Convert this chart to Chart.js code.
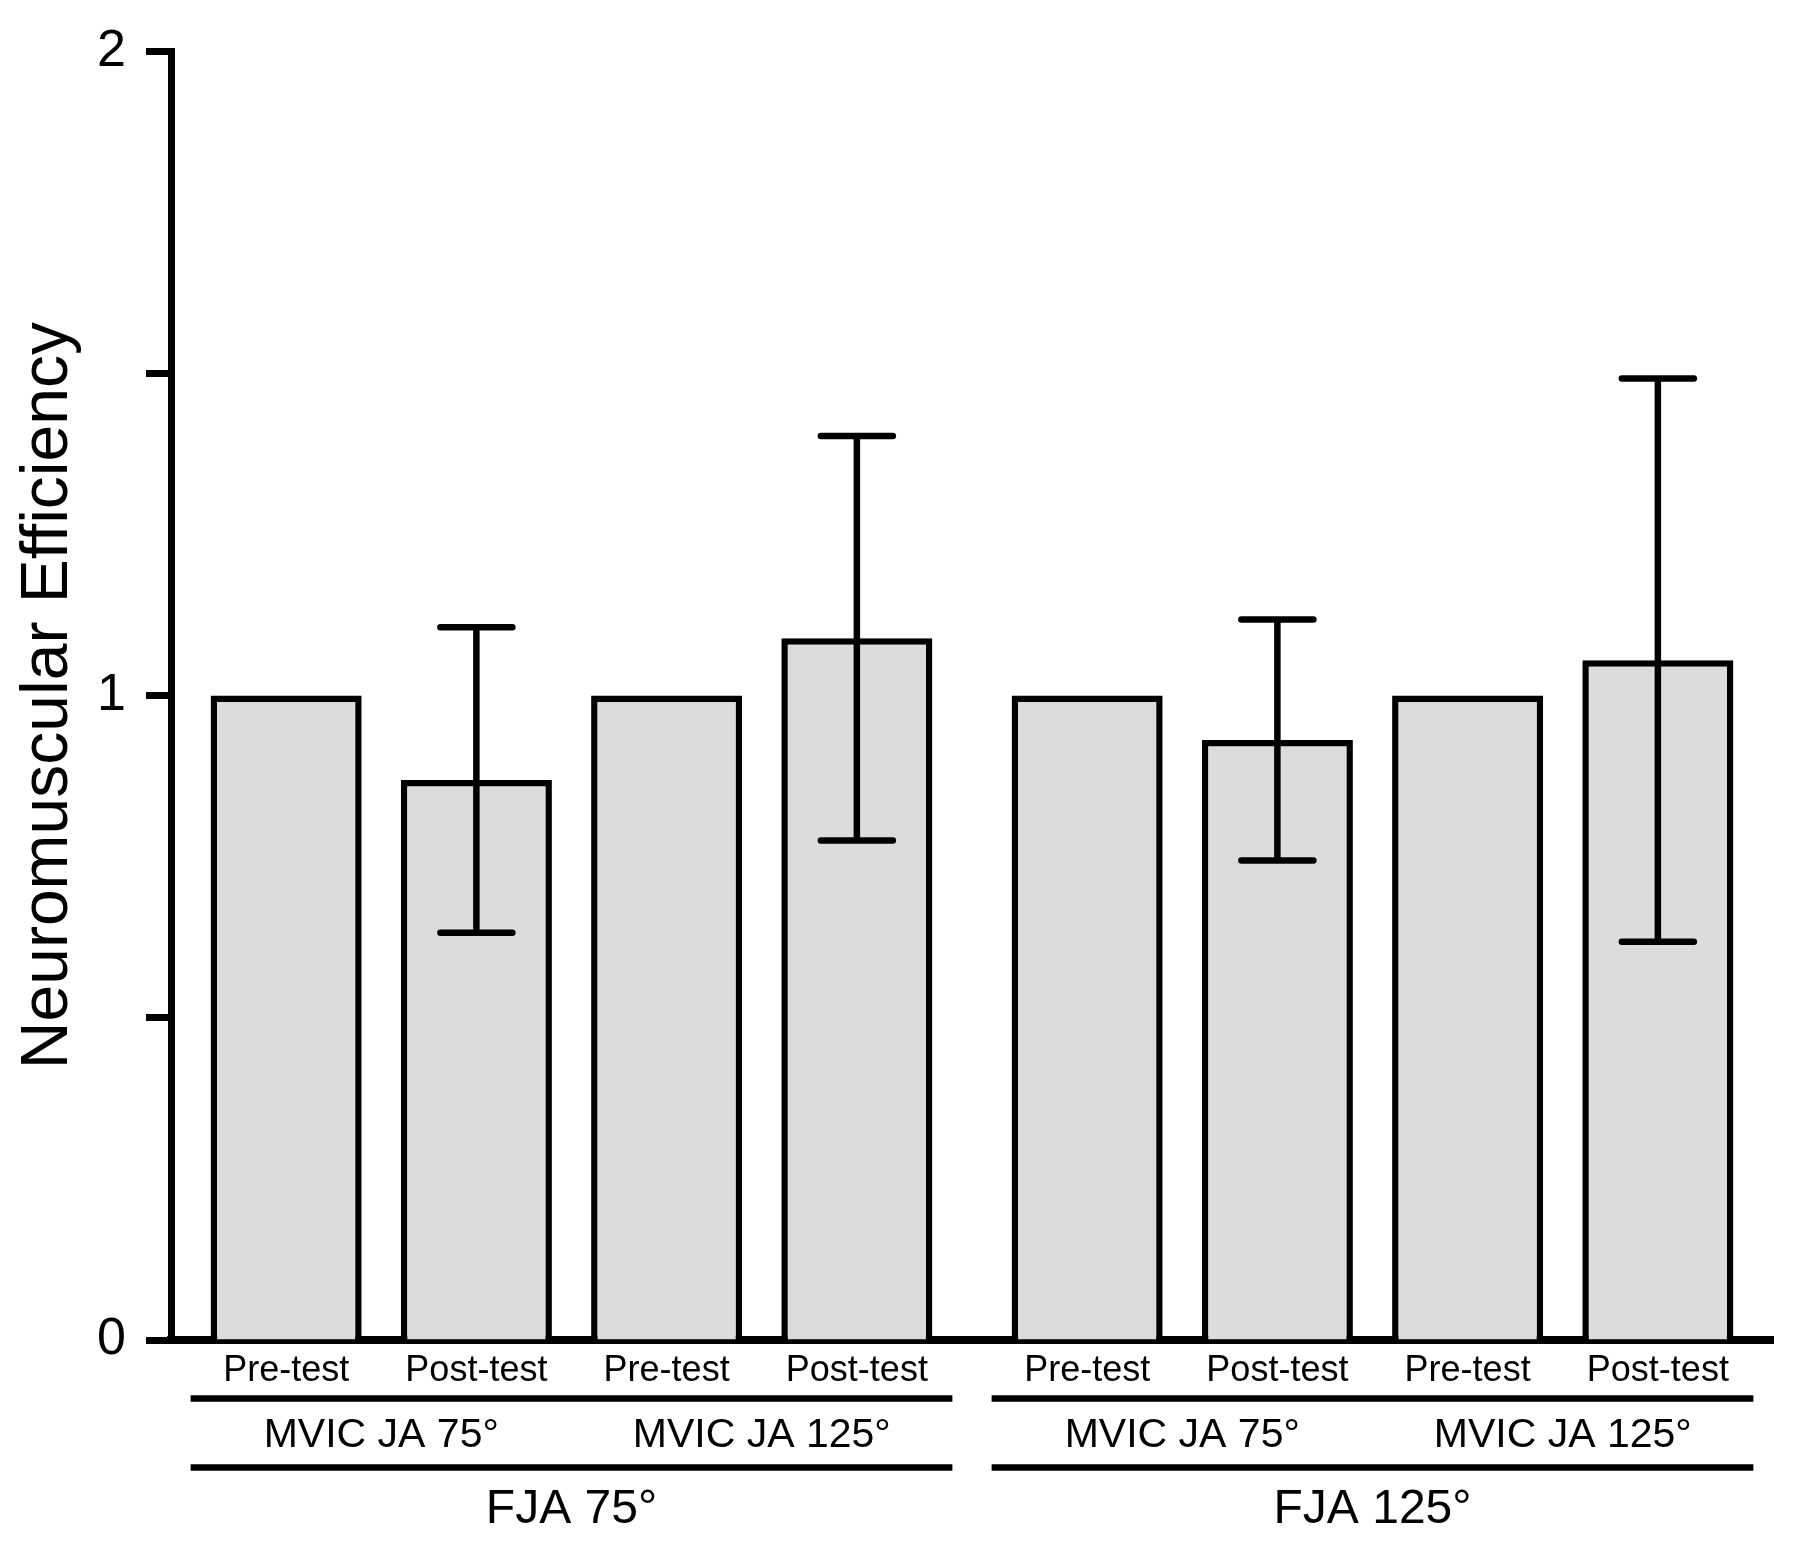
<!DOCTYPE html>
<html>
<head>
<meta charset="utf-8">
<script src="https://cdn.jsdelivr.net/npm/chart.js@4/dist/chart.umd.min.js"></script>
<style>
	html, body { margin: 0; padding: 0; background: #fff; }
	canvas { display: block; }
</style>
</head>
<body>
<canvas id="nmeChart" width="1794" height="1545"></canvas>
<script>
// Values (neuromuscular efficiency, mean and SD)
const groups = ["FJA 75°", "FJA 125°"];
const conditions = ["MVIC JA 75°", "MVIC JA 125°"];
const phases = ["Pre-test", "Post-test"];

const pre75 = [1.0, 1.0];
const post75 = [0.869, 0.931];
const post75Sd = [0.237, 0.187];
const pre125 = [1.0, 1.0];
const post125 = [1.089, 1.055];
const post125Sd = [0.314, 0.437];

const yTickValues = [0, 1, 2];
const yTitle = "Neuromuscular Efficiency";

const FONT = "'Liberation Sans', Arial, sans-serif";
const BAR_FILL = "#dcdcdc";

document.addEventListener("DOMContentLoaded", function () {
	const canvas = document.getElementById("nmeChart");

	if (typeof Chart === "undefined") {
		console.error("Chart.js is not loaded.");
		return;
	}

	function barSet(label, values, sd) {
		return {
			label: label,
			data: values,
			sd: sd,
			backgroundColor: BAR_FILL,
			borderColor: "#000",
			borderWidth: 6.5,
			borderSkipped: "start",
			categoryPercentage: 0.95,
			barPercentage: 0.794,
		};
	}

	// error bars on top of the bars
	const errorBars = {
		id: "errorBars",
		afterDatasetsDraw(chart) {
			const ctx = chart.ctx;
			const y = chart.scales.y;
			chart.data.datasets.forEach(function (ds, i) {
				if (!ds.sd) return;
				chart.getDatasetMeta(i).data.forEach(function (bar, j) {
					const v = ds.data[j];
					const e = ds.sd[j];
					const yTop = y.getPixelForValue(v + e);
					const yBot = y.getPixelForValue(v - e);
					ctx.save();
					ctx.strokeStyle = "#000";
					ctx.lineWidth = 6.5;
					ctx.lineCap = "butt";
					ctx.beginPath();
					ctx.moveTo(bar.x, yTop);
					ctx.lineTo(bar.x, yBot);
					ctx.stroke();
					ctx.lineCap = "round";
					ctx.beginPath();
					ctx.moveTo(bar.x - 36, yTop);
					ctx.lineTo(bar.x + 36, yTop);
					ctx.moveTo(bar.x - 36, yBot);
					ctx.lineTo(bar.x + 36, yBot);
					ctx.stroke();
					ctx.restore();
				});
			});
		},
	};

	// nested category labels under the x axis + rotated y title
	const axisLabels = {
		id: "axisLabels",
		afterDraw(chart) {
			const ctx = chart.ctx;
			const area = chart.chartArea;
			const xScale = chart.scales.x;
			const metas = chart.data.datasets.map((d, i) => chart.getDatasetMeta(i));
			const bottom = area.bottom;

			ctx.save();
			ctx.fillStyle = "#000";
			ctx.strokeStyle = "#000";
			ctx.textAlign = "center";
			ctx.textBaseline = "alphabetic";

			groups.forEach(function (g, j) {
				// phase labels under every bar
				ctx.font = "36px " + FONT;
				metas.forEach(function (meta, i) {
					const bar = meta.data[j];
					ctx.fillText(phases[i % 2], bar.x, bottom + 41);
				});

				const first = metas[0].data[j];
				const last = metas[metas.length - 1].data[j];
				const left = first.x - first.width / 2 - 20;
				const right = last.x + last.width / 2 + 20;

				ctx.lineWidth = 6.5;
				ctx.lineCap = "butt";
				ctx.beginPath();
				ctx.moveTo(left, bottom + 58.5);
				ctx.lineTo(right, bottom + 58.5);
				ctx.moveTo(left, bottom + 127.5);
				ctx.lineTo(right, bottom + 127.5);
				ctx.stroke();

				ctx.font = "41px " + FONT;
				conditions.forEach(function (c, k) {
					const a = metas[2 * k].data[j];
					const b = metas[2 * k + 1].data[j];
					ctx.fillText(c, (a.x + b.x) / 2, bottom + 107);
				});

				ctx.font = "48px " + FONT;
				ctx.fillText(g, xScale.getPixelForValue(j), bottom + 183);
			});

			ctx.translate(67, (area.top + area.bottom) / 2);
			ctx.rotate(-Math.PI / 2);
			ctx.font = "66px " + FONT;
			ctx.fillText(yTitle, 0, 0);
			ctx.restore();
		},
	};

	new Chart(canvas, {
		type: "bar",
		data: {
			labels: groups,
			datasets: [
				barSet(phases[0] + " " + conditions[0], pre75, null),
				barSet(phases[1] + " " + conditions[0], post75, post75Sd),
				barSet(phases[0] + " " + conditions[1], pre125, null),
				barSet(phases[1] + " " + conditions[1], post125, post125Sd),
			],
		},
		options: {
			responsive: false,
			devicePixelRatio: 1,
			animation: false,
			events: [],
			layout: {
				padding: { top: 49, right: 21, left: 0, bottom: 0 },
			},
			scales: {
				x: {
					z: 1,
					grid: { display: false, drawTicks: false },
					border: { display: true, color: "#000", width: 8 },
					ticks: { display: false },
					afterFit: function (scale) {
						scale.height = 205;
					},
				},
				y: {
					min: 0,
					max: 2,
					grid: {
						display: true,
						drawOnChartArea: false,
						drawTicks: true,
						tickLength: 25,
						tickWidth: 7,
						tickColor: "#000",
					},
					border: { display: true, color: "#000", width: 7 },
					ticks: {
						stepSize: 0.5,
						padding: 20,
						color: "#000",
						font: { family: FONT, size: 52 },
						callback: function (value) {
							return yTickValues.includes(value) ? String(value) : "";
						},
					},
					afterFit: function (scale) {
						scale.width = 171;
					},
				},
			},
			plugins: {
				legend: { display: false },
				tooltip: { enabled: false },
			},
		},
		plugins: [errorBars, axisLabels],
	});
});
</script>
</body>
</html>
